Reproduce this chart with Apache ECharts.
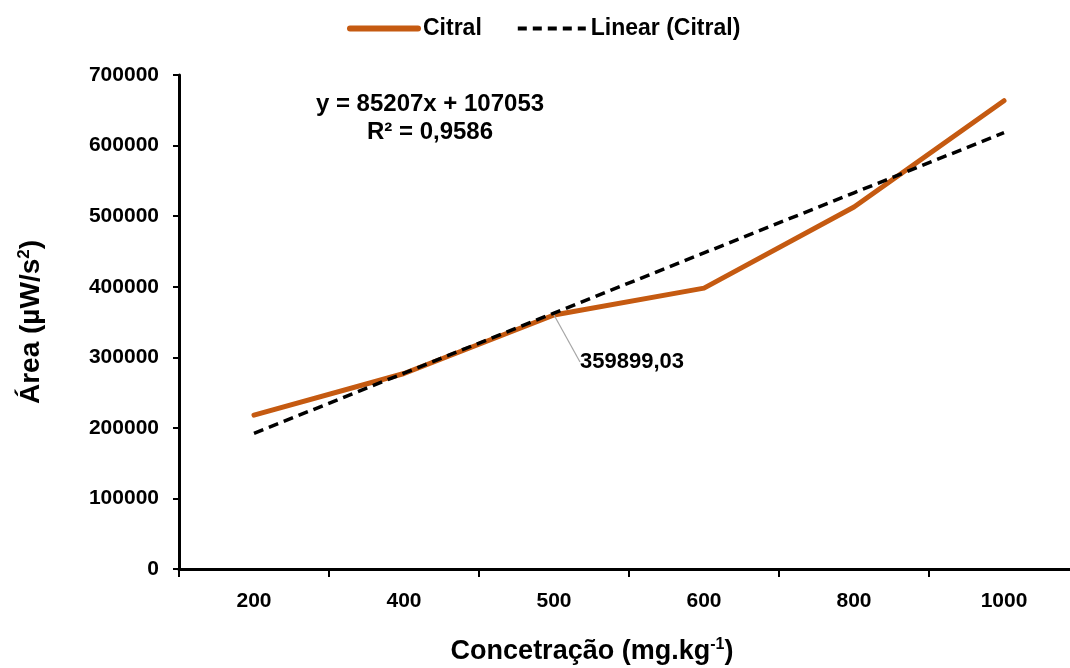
<!DOCTYPE html>
<html><head><meta charset="utf-8">
<script src="https://cdn.jsdelivr.net/npm/echarts@6/dist/echarts.min.js"></script>
<style>html,body{margin:0;padding:0;background:#fff}#c{width:1070px;height:668px}</style>
</head><body><div id="c"></div>
<script>
const categories = ['200','400','500','600','800','1000'];
const citral = [218000, 277000, 359899.03, 398000, 513000, 663500];
const linearCitral = [192260, 277467, 362674, 447881, 533088, 618295];
const equationText = 'y = 85207x + 107053';
const r2Text = 'R² = 0,9586';
const labelIndex = 2;

const F = 'Liberation Sans, Arial, Helvetica, sans-serif';
const chart = echarts.init(document.getElementById('c'), null, {renderer:'canvas'});
chart.setOption({
  animation:false,
  backgroundColor:'#fff',
  textStyle:{fontFamily:F},
  legend:{
    top:12, left:342, itemGap:34, itemWidth:68, itemHeight:14,
    itemStyle:{opacity:0},
    textStyle:{fontFamily:F, fontWeight:'bold', fontSize:23, color:'#000'},
    data:[
      {name:'Citral', lineStyle:{width:6, color:'#C55A11'}},
      {name:'Linear (Citral)', lineStyle:{width:4, color:'#000', type:[9,6]}}
    ]
  },
  grid:{left:179, width:900, top:75, bottom:99, containLabel:false, outerBoundsMode:'none'},
  xAxis:{
    type:'category', data:categories, boundaryGap:true,
    axisLine:{lineStyle:{color:'#000', width:3}},
    axisTick:{show:true, length:8, lineStyle:{color:'#000', width:2}},
    axisLabel:{fontFamily:F, fontWeight:'bold', fontSize:21, color:'#000', margin:22},
    name:'Concetração (mg.kg{s|-1})', nameLocation:'middle', nameGap:68,
    nameTextStyle:{fontFamily:F, fontWeight:'bold', fontSize:27, color:'#000', padding:[0,74,0,0],
      rich:{s:{fontFamily:F, fontWeight:'bold', fontSize:16, color:'#000', verticalAlign:'top', padding:[0,0,13,0]}}},
    splitLine:{show:false}
  },
  yAxis:{
    type:'value', min:0, max:700000, interval:100000,
    axisLine:{show:true, lineStyle:{color:'#000', width:3}},
    axisTick:{show:true, length:6, lineStyle:{color:'#000', width:2}},
    axisLabel:{fontFamily:F, fontWeight:'bold', fontSize:21, color:'#000', margin:20, formatter:v=>String(v)},
    splitLine:{show:false},
    name:'Área (µW/s{s|2})', nameLocation:'middle', nameGap:133,
    nameTextStyle:{fontFamily:F, fontWeight:'bold', fontSize:28, color:'#000',
      rich:{s:{fontFamily:F, fontWeight:'bold', fontSize:17, color:'#000', verticalAlign:'top', padding:[0,0,13,0]}}}
  },
  series:[
    {
      name:'Citral', type:'line', symbol:'circle', symbolSize:0, showSymbol:true, z:2,
      lineStyle:{color:'#C55A11', width:5, cap:'round', join:'round'},
      itemStyle:{color:'#C55A11'},
      data:citral.map((v,i)=> i===labelIndex ? {value:v, label:{show:true}, labelLine:{show:true}} : v),
      label:{show:false, position:'right', distance:4, fontFamily:F, fontWeight:'bold', fontSize:22, color:'#000',
        formatter:p=>String(p.value).replace('.',',')},
      labelLine:{show:false, lineStyle:{color:'#A6A6A6', width:1.2}},
      labelLayout:function(p){ return {dx:22, dy:47}; }
    },
    {
      name:'Linear (Citral)', type:'line', symbol:'none', z:3,
      lineStyle:{color:'#000', width:3.5, type:[10,6]},
      itemStyle:{color:'#000'},
      data:linearCitral
    }
  ],
  graphic:[
    {type:'text', x:430, y:104, style:{text:equationText, fontFamily:F, fontWeight:'bold', fontSize:24, fill:'#000', textAlign:'center', textVerticalAlign:'middle'}},
    {type:'text', x:430, y:132, style:{text:r2Text, fontFamily:F, fontWeight:'bold', fontSize:24, fill:'#000', textAlign:'center', textVerticalAlign:'middle'}}
  ]
});
</script></body></html>
